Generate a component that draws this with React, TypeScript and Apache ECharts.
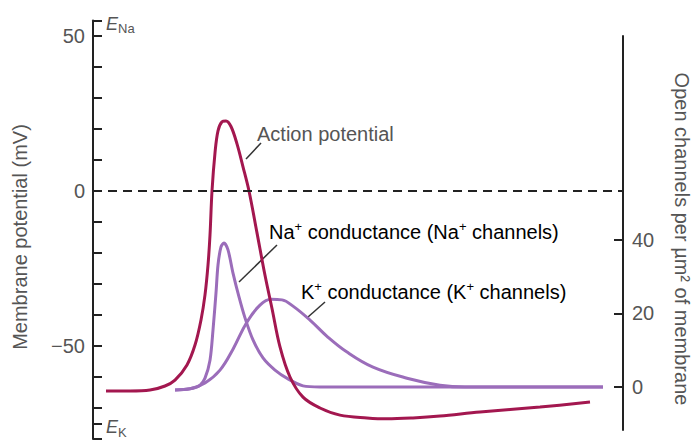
import React, { useEffect, useRef } from "react";
import * as echarts from "echarts";

// Time axis (ms, arbitrary origin)
const timeMin = 0;
const timeMax = 5.3;

// Action potential (membrane potential, mV)
const apTime = [0.13, 0.37, 0.57, 0.72, 0.82, 0.94, 1.02, 1.08, 1.12, 1.15, 1.17, 1.19, 1.22, 1.25, 1.29, 1.33, 1.38, 1.44, 1.5, 1.56, 1.64, 1.72, 1.79, 1.87, 1.97, 2.1, 2.27, 2.47, 2.74, 2.94, 3.2, 3.47, 3.87, 4.47, 4.97];
const apVoltage = [-64.5, -64.5, -64.2, -62.9, -61.0, -56.1, -49.7, -41.6, -33.5, -23.9, -14.2, 0, 12.3, 19.4, 22.3, 22.6, 20.8, 15.2, 7.8, 0, -13.5, -27.2, -37.9, -50.3, -60, -66.5, -70, -72.3, -73.2, -73.5, -73.2, -72.6, -71.3, -69.7, -68.1];

// Na+ conductance (open channels per µm²)
const naTime = [0.82, 0.97, 1.07, 1.12, 1.17, 1.2, 1.23, 1.25, 1.28, 1.31, 1.35, 1.4, 1.46, 1.52, 1.6, 1.7, 1.82, 1.95, 2.1, 2.27, 5.1];
const naConductance = [-0.8, -0.5, 0.5, 2.4, 7.3, 15.5, 25.6, 33.2, 38.1, 39.2, 37.3, 31, 24.5, 18.8, 12.8, 7.9, 4.6, 2.2, 0.3, 0, 0];

// K+ conductance (open channels per µm²)
const kTime = [0.82, 0.97, 1.12, 1.27, 1.4, 1.54, 1.67, 1.78, 1.89, 2.0, 2.17, 2.34, 2.54, 2.8, 3.14, 3.47, 3.72, 5.1];
const kConductance = [-0.8, -0.5, 1.1, 4.6, 10.3, 17.7, 22.3, 23.9, 23.7, 22, 18.2, 13.8, 9.5, 5.4, 2.4, 0.5, 0, 0];

// Axes
const leftMin = -80;
const leftMax = 55;
const leftTickValues = [-80, -75, -70, -60, -50, -40, -30, -20, -10, 0, 10, 20, 30, 40, 50, 55];
const leftLabelValues = [-50, 0, 50];
const rightMin = -11.7;
const rightMax = 95.5;
const rightTickValues = [0, 20, 40];
const rightLabelValues = [0, 20, 40];

const FONT = '"Liberation Sans", Arial, Helvetica, sans-serif';
const TEXT = "#555";
const AXIS = "#222";
const RED = "#A3174F";
const PURPLE = "#9B6DBA";

const zip = (xs: number[], ys: number[]) => xs.map((x, i) => [x, ys[i]]);

export default function App() {
  const ref = useRef<HTMLDivElement>(null);
  useEffect(() => {
    if (!ref.current) return;
    const chart = echarts.init(ref.current, undefined, { renderer: "svg" });
    const supRich = {
      n: { fontSize: 20, fontFamily: FONT, color: TEXT, lineHeight: 22, verticalAlign: "bottom" },
      s: { fontSize: 13, fontFamily: FONT, color: TEXT, lineHeight: 22, verticalAlign: "top", padding: [0, 0, 6, 0] },
    };
    chart.setOption({
      animation: false,
      backgroundColor: "#fff",
      grid: [
        { left: 93, width: 530, top: 20.5, height: 418.5 },
        { left: 93, width: 530, top: 36, height: 394 },
      ],
      xAxis: [
        { gridIndex: 0, type: "value", min: timeMin, max: timeMax, show: false },
        { gridIndex: 1, type: "value", min: timeMin, max: timeMax, show: false },
      ],
      yAxis: [
        {
          gridIndex: 0,
          type: "value",
          position: "left",
          min: leftMin,
          max: leftMax,
          axisLine: { show: true, onZero: false, lineStyle: { color: AXIS, width: 2 } },
          axisTick: { show: true, inside: true, length: 9, customValues: leftTickValues, lineStyle: { color: AXIS, width: 2 } },
          axisLabel: {
            show: true,
            customValues: leftLabelValues,
            margin: 8,
            color: TEXT,
            fontSize: 20,
            fontFamily: FONT,
            formatter: (v: number) => (v < 0 ? "\u2212" + Math.abs(v) : String(v)),
          },
          splitLine: { show: false },
        },
        {
          gridIndex: 1,
          type: "value",
          position: "right",
          min: rightMin,
          max: rightMax,
          axisLine: { show: true, onZero: false, lineStyle: { color: AXIS, width: 2 } },
          axisTick: { show: true, inside: true, length: 9, customValues: rightTickValues, lineStyle: { color: AXIS, width: 2 } },
          axisLabel: {
            show: true,
            customValues: rightLabelValues,
            margin: 9,
            color: TEXT,
            fontSize: 20,
            fontFamily: FONT,
          },
          splitLine: { show: false },
        },
      ],
      series: [
        {
          name: "Action potential",
          type: "line",
          xAxisIndex: 0,
          yAxisIndex: 0,
          data: zip(apTime, apVoltage),
          smooth: 0.35,
          showSymbol: false,
          lineStyle: { color: RED, width: 3 },
          z: 3,
          markLine: {
            silent: true,
            symbol: "none",
            label: { show: false },
            lineStyle: { color: AXIS, width: 2, type: [9, 6] },
            data: [[{ coord: [timeMin, 0] }, { coord: [timeMax, 0] }]],
          },
        },
        {
          name: "Na+ conductance",
          type: "line",
          xAxisIndex: 1,
          yAxisIndex: 1,
          data: zip(naTime, naConductance),
          smooth: 0.3,
          showSymbol: false,
          lineStyle: { color: PURPLE, width: 3 },
          z: 2,
        },
        {
          name: "K+ conductance",
          type: "line",
          xAxisIndex: 1,
          yAxisIndex: 1,
          data: zip(kTime, kConductance),
          smooth: 0.4,
          showSymbol: false,
          lineStyle: { color: PURPLE, width: 3 },
          z: 2,
        },
      ],
      graphic: [
        {
          type: "text",
          x: 20,
          y: 237,
          rotation: Math.PI / 2,
          style: { text: "Membrane potential (mV)", font: `20px ${FONT}`, fill: TEXT, align: "center", verticalAlign: "middle" },
        },
        {
          type: "text",
          x: 682,
          y: 239,
          rotation: -Math.PI / 2,
          style: { text: "Open channels per \u00B5m\u00B2 of membrane", font: `20px ${FONT}`, fill: TEXT, align: "center", verticalAlign: "middle" },
        },
        { type: "text", x: 106, y: 24, style: { text: "E", font: `italic 18px ${FONT}`, fill: TEXT, align: "left", verticalAlign: "middle" } },
        { type: "text", x: 118, y: 28.5, style: { text: "Na", font: `13px ${FONT}`, fill: TEXT, align: "left", verticalAlign: "middle" } },
        { type: "text", x: 106, y: 426.5, style: { text: "E", font: `italic 18px ${FONT}`, fill: TEXT, align: "left", verticalAlign: "middle" } },
        { type: "text", x: 118, y: 432, style: { text: "K", font: `13px ${FONT}`, fill: TEXT, align: "left", verticalAlign: "middle" } },
        { type: "text", x: 257, y: 134, style: { text: "Action potential", font: `20px ${FONT}`, fill: TEXT, align: "left", verticalAlign: "middle" } },
        {
          type: "text",
          x: 269,
          y: 231,
          style: { text: "{n|Na}{s|+}{n| conductance (Na}{s|+}{n| channels)}", rich: supRich, align: "left", verticalAlign: "middle" },
        },
        {
          type: "text",
          x: 301,
          y: 291,
          style: { text: "{n|K}{s|+}{n| conductance (K}{s|+}{n| channels)}", rich: supRich, align: "left", verticalAlign: "middle" },
        },
        { type: "line", shape: { x1: 261, y1: 143, x2: 246, y2: 159 }, style: { stroke: "#333", lineWidth: 1.5 } },
        { type: "line", shape: { x1: 277, y1: 245, x2: 239, y2: 282 }, style: { stroke: "#333", lineWidth: 1.5 } },
        { type: "line", shape: { x1: 325, y1: 302, x2: 308, y2: 317 }, style: { stroke: "#333", lineWidth: 1.5 } },
      ],
    });
    return () => chart.dispose();
  }, []);
  return <div ref={ref} style={{ position: "fixed", left: 0, top: 0, width: 695, height: 443 }} />;
}
